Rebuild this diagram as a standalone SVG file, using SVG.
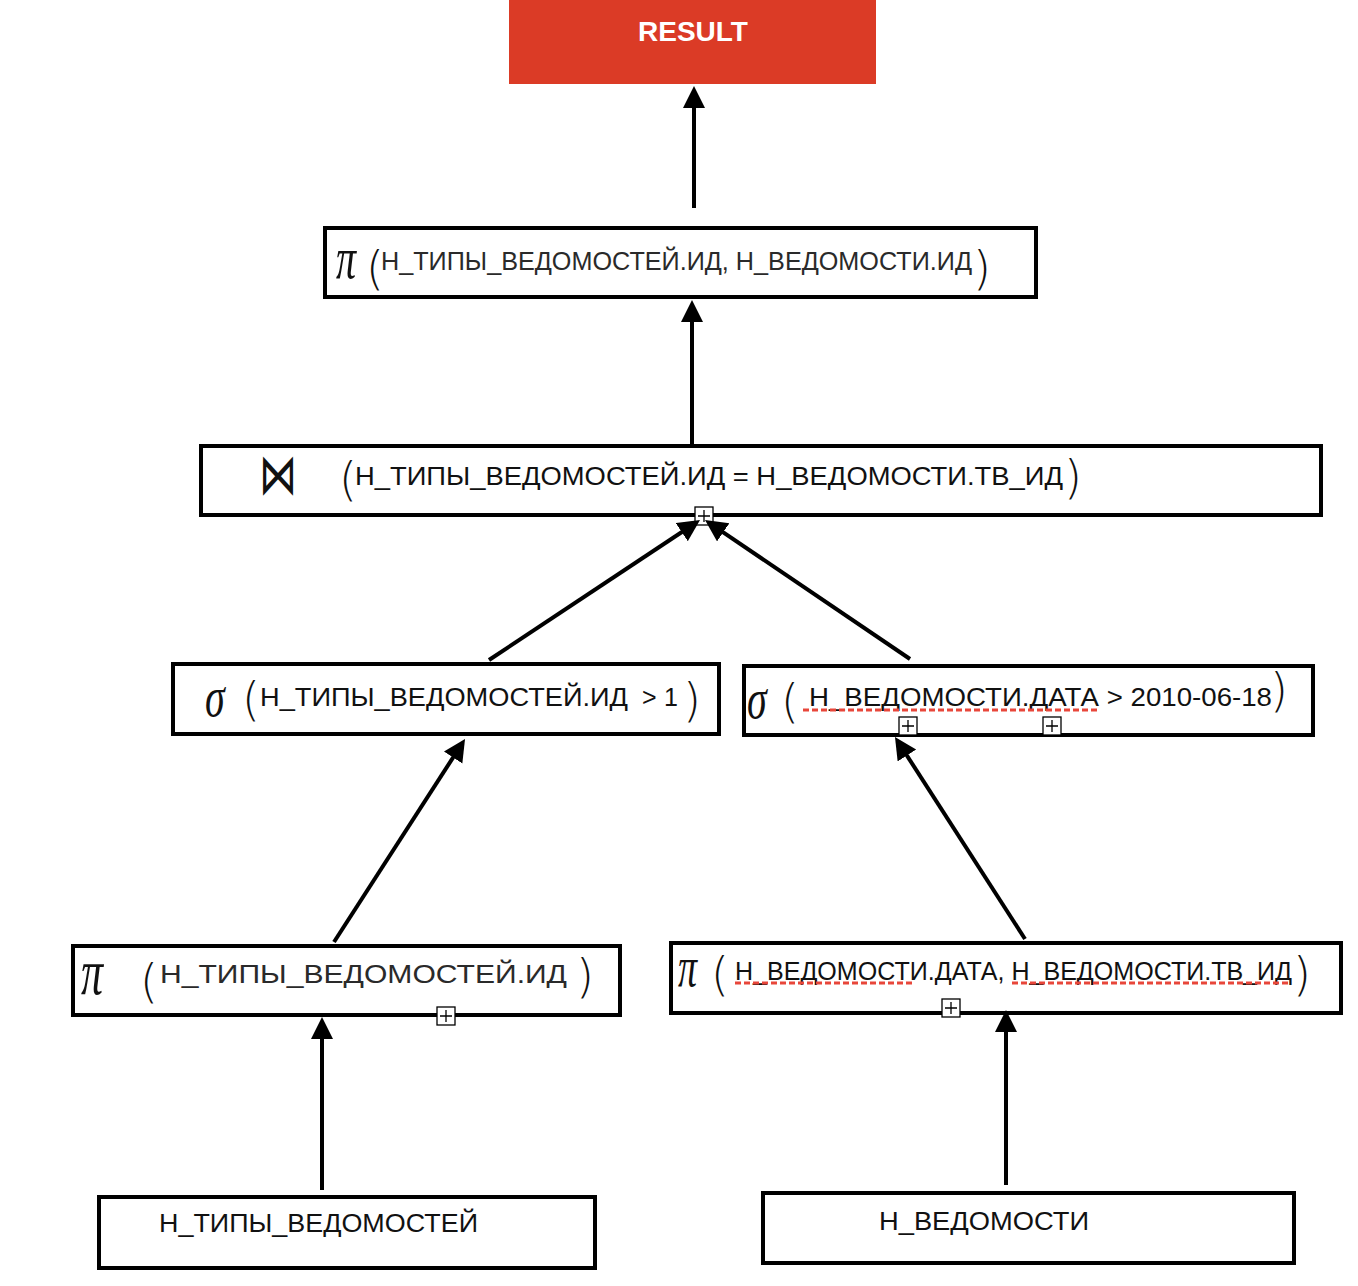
<svg xmlns="http://www.w3.org/2000/svg" xmlns:xlink="http://www.w3.org/1999/xlink" width="1358" height="1286" viewBox="0 0 1358 1286">
  <style>
    .box { fill: #ffffff; stroke: #000000; stroke-width: 4; }
    .lbl { font-family: "Liberation Sans", Arial, sans-serif; font-size: 25px; fill: #111111; }
    .lbl-dark { font-family: "Liberation Sans", Arial, sans-serif; font-size: 25px; fill: #2a2a2a; }
    .paren { font-family: "DejaVu Sans", "Liberation Sans", sans-serif; font-weight: 200; font-size: 46px; fill: #111111; }
    .sym { font-family: "Liberation Serif", "DejaVu Serif", serif; font-style: italic; fill: #111111; }
    .join { font-family: "DejaVu Sans", sans-serif; fill: #111111; }
    .edge { fill: none; stroke: #000000; stroke-width: 4; marker-end: url(#head); }
    .squig { fill: none; stroke: #e8463a; stroke-width: 3; stroke-dasharray: 6 3; }
    .mark { fill: #ffffff; stroke: #000000; stroke-width: 1.3; }
  </style>
  <defs>
    <marker id="head" markerUnits="userSpaceOnUse" markerWidth="24" markerHeight="24" refX="12" refY="11" orient="auto">
      <path d="M0,0 L22,11 L0,22 z" fill="#000000"/>
    </marker>
    <!-- small collapse toggle box -->
    <g id="toggle">
      <rect class="mark" x="0" y="0" width="18" height="18"/>
      <path d="M3,9 H15 M9,3 V15" stroke="#000000" stroke-width="1.3"/>
    </g>
  </defs>

  <!-- result -->
  <g id="result">
    <rect x="509" y="0" width="367" height="84" fill="#db3b26"/>
    <text x="693" y="41" text-anchor="middle" font-family="Liberation Sans, Arial, sans-serif" font-weight="bold" font-size="28" fill="#ffffff">RESULT</text>
  </g>

  <!-- top projection -->
  <g id="proj-top">
    <rect class="box" x="325" y="228" width="711" height="69"/>
    <text class="sym" font-size="40" transform="translate(336,278) scale(1,1.5)">π</text>
    <text class="paren" x="366" y="284">(</text>
    <text class="lbl-dark" x="381" y="270" textLength="591" lengthAdjust="spacingAndGlyphs">Н_ТИПЫ_ВЕДОМОСТЕЙ.ИД, Н_ВЕДОМОСТИ.ИД</text>
    <text class="paren" x="973" y="284">)</text>
  </g>

  <!-- join -->
  <g id="join">
    <rect class="box" x="201" y="446" width="1120" height="69"/>
    <text class="join" font-size="38" transform="translate(259,494) scale(1,1.5)">⋈</text>
    <text class="paren" x="339" y="495">(</text>
    <text class="lbl" x="355" y="485" textLength="708" lengthAdjust="spacingAndGlyphs">Н_ТИПЫ_ВЕДОМОСТЕЙ.ИД = Н_ВЕДОМОСТИ.ТВ_ИД</text>
    <text class="paren" x="1064" y="493">)</text>
    <use xlink:href="#toggle" x="695" y="507"/>
  </g>

  <!-- selection on types -->
  <g id="select-types">
    <rect class="box" x="173" y="664" width="546" height="70"/>
    <text class="sym" font-size="40" transform="translate(205,716) scale(1,1.4)">σ</text>
    <text class="paren" x="242" y="715">(</text>
    <text class="lbl" x="260" y="706" textLength="368" lengthAdjust="spacingAndGlyphs">Н_ТИПЫ_ВЕДОМОСТЕЙ.ИД</text>
    <text class="lbl" x="642" y="706">&gt;</text>
    <text class="lbl" x="664" y="706">1</text>
    <text class="paren" x="683" y="716">)</text>
  </g>

  <!-- selection on records -->
  <g id="select-records">
    <rect class="box" x="744" y="666" width="569" height="69"/>
    <text class="sym" font-size="40" transform="translate(747,718) scale(1,1.4)">σ</text>
    <text class="paren" x="781" y="717">(</text>
    <text class="lbl" x="809" y="706" textLength="463" lengthAdjust="spacingAndGlyphs">Н_ВЕДОМОСТИ.ДАТА &gt; 2010-06-18</text>
    <text class="paren" x="1270" y="706">)</text>
    <line class="squig" x1="803" y1="710" x2="1097" y2="710"/>
    <use xlink:href="#toggle" x="899" y="717"/>
    <use xlink:href="#toggle" x="1043" y="717"/>
  </g>

  <!-- projection on types -->
  <g id="proj-types">
    <rect class="box" x="73" y="946" width="547" height="69"/>
    <text class="sym" font-size="44" transform="translate(81,994) scale(1,1.5)">π</text>
    <text class="paren" x="140" y="997">(</text>
    <text class="lbl-dark" x="160" y="983" font-size="27" textLength="407" lengthAdjust="spacingAndGlyphs">Н_ТИПЫ_ВЕДОМОСТЕЙ.ИД</text>
    <text class="paren" x="576" y="992">)</text>
    <use xlink:href="#toggle" x="437" y="1007"/>
  </g>

  <!-- projection on records -->
  <g id="proj-records">
    <rect class="box" x="671" y="943" width="670" height="70"/>
    <text class="sym" font-size="38" transform="translate(678,986) scale(1,1.5)">π</text>
    <text class="paren" x="711" y="990">(</text>
    <text class="lbl" x="735" y="980" textLength="557" lengthAdjust="spacingAndGlyphs">Н_ВЕДОМОСТИ.ДАТА, Н_ВЕДОМОСТИ.ТВ_ИД</text>
    <text class="paren" x="1293" y="990">)</text>
    <line class="squig" x1="735" y1="983" x2="915" y2="983"/>
    <line class="squig" x1="1012" y1="983" x2="1290" y2="983"/>
    <use xlink:href="#toggle" x="942" y="999"/>
  </g>

  <!-- base relations -->
  <g id="rel-types">
    <rect class="box" x="99" y="1197" width="496" height="71"/>
    <text class="lbl" x="159" y="1232" font-size="26" textLength="319" lengthAdjust="spacingAndGlyphs">Н_ТИПЫ_ВЕДОМОСТЕЙ</text>
  </g>
  <g id="rel-records">
    <rect class="box" x="763" y="1193" width="531" height="70"/>
    <text class="lbl" x="879" y="1230" font-size="26" textLength="210" lengthAdjust="spacingAndGlyphs">Н_ВЕДОМОСТИ</text>
  </g>

  <!-- connectors -->
  <g id="edges">
    <line class="edge" x1="694" y1="208" x2="694" y2="96"/>
    <line class="edge" x1="692" y1="444" x2="692" y2="310"/>
    <line class="edge" x1="489" y1="660" x2="691.7" y2="525.5"/>
    <line class="edge" x1="910" y1="659" x2="713.3" y2="525.6"/>
    <line class="edge" x1="334" y1="942" x2="459.6" y2="747.4"/>
    <line class="edge" x1="1025" y1="939" x2="900.4" y2="745.4"/>
    <line class="edge" x1="322" y1="1190" x2="322" y2="1027"/>
    <line class="edge" x1="1006" y1="1185" x2="1006" y2="1020"/>
  </g>
</svg>
